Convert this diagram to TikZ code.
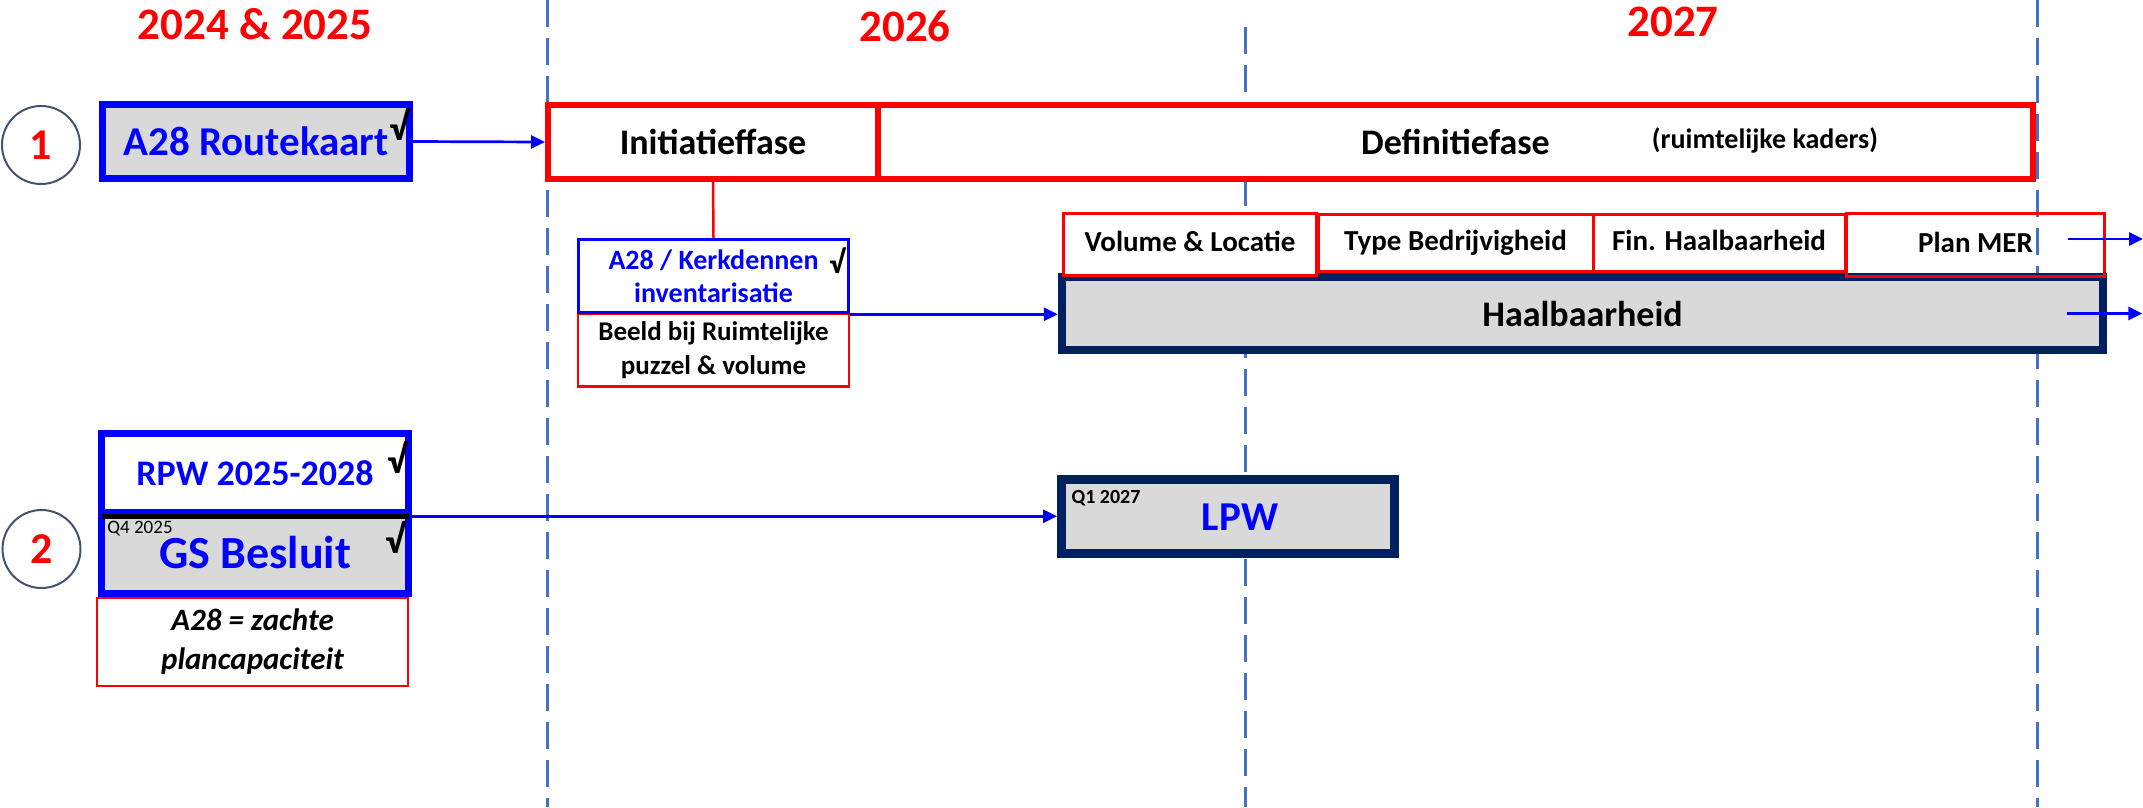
\documentclass[tikz,border=0pt]{standalone}
\usepackage{fontspec}
\setmainfont{Carlito}
\usetikzlibrary{arrows.meta}

\definecolor{navy}{HTML}{002060}
\definecolor{boxgray}{HTML}{D9D9D9}
\definecolor{gridblue}{HTML}{4472C4}
\definecolor{ringgray}{HTML}{44546A}

\begin{document}
\begin{tikzpicture}[x=1pt, y=-1pt,
    yearlabel/.style={text=red, font=\bfseries\fontsize{45}{54}\selectfont},
    ring/.style={circle, draw=ringgray, line width=2pt, minimum size=78pt, inner sep=0pt,
      text=red, font=\bfseries\fontsize{44}{52}\selectfont},
    phasebox/.style={draw=red, line width=6pt, fill=white, inner sep=0pt, minimum height=74pt,
      font=\bfseries\fontsize{36}{43}\selectfont},
    bluebox/.style={draw=blue, line width=7pt, inner sep=0pt, minimum width=307pt,
      text=blue, font=\bfseries\fontsize{36}{43}\selectfont},
    navybox/.style={draw=navy, line width=8.5pt, fill=boxgray, inner sep=0pt},
    redbox/.style={draw=red, line width=3pt, inner sep=0pt, text height=20pt, text depth=6pt,
      font=\bfseries\fontsize{29}{35}\selectfont},
    notebox/.style={draw=red, line width=2.5pt, fill=white, inner sep=0pt, align=center},
    flow/.style={blue, line width=2.7pt, -{Triangle[length=14pt,width=13pt]}},
    check/.style={font=\bfseries\fontsize{40}{48}\selectfont},
    grid/.style={gridblue, line width=3pt, dash pattern=on 27pt off 11pt}]

  \useasboundingbox (0,0) rectangle (2143,807);

  % Year separators
  \draw[grid] (547,0) -- (547,807);
  \draw[grid] (1245,27) -- (1245,807);
  \draw[grid] (2037,0) -- (2037,807);

  % Year labels
  \node[yearlabel] (y2425) at (255,24) {2024 \& 2025};
  \node[yearlabel] (y26) at (905,26) {2026};
  \node[yearlabel] (y27) at (1673,22) {2027};

  % Phases (track 1)
  \node[phasebox, minimum width=330pt] (init) at (713,142) {Initiatieffase};
  \node[phasebox, minimum width=1155pt] (defin) at (1455.5,142) {Definitiefase};
  \node[font=\bfseries\fontsize{28}{34}\selectfont] (kaders) at (1765,140) {(ruimtelijke kaders)};

  % Track 1
  \node[ring] (one) at (41,145) {1};
  \node[bluebox, fill=boxgray, minimum height=74pt, font=\bfseries\fontsize{41}{49}\selectfont]
    (route) at (256,141.5) {A28 Routekaart};
  \node[check] (chkroute) at (399,124) {√};
  \draw[flow] (route.east) -- (init.west);

  % Inventory below the initiation phase
  \node[notebox, minimum width=271pt, minimum height=73pt,
    font=\bfseries\fontsize{27}{34}\selectfont] (beeld) at (713.5,350)
    {Beeld bij Ruimtelijke\\puzzel \& volume};
  \node[draw=blue, line width=3pt, fill=white, inner sep=0pt, align=center,
    minimum width=270pt, minimum height=73.5pt, text=blue,
    font=\bfseries\fontsize{28}{33}\selectfont] (kerk) at (713.5,276)
    {A28 / Kerkdennen\\inventarisatie};
  \node[check, font=\bfseries\fontsize{32}{38}\selectfont] (chkkerk) at (837,261) {√};
  \draw[red, line width=2.5pt] (init.south) -- (kerk.north);

  % Feasibility
  \node[navybox, minimum width=1041pt, minimum height=73pt,
    font=\bfseries\fontsize{36}{43}\selectfont] (haal) at (1582.5,313.5) {Haalbaarheid};
  \node[redbox, fill=white, minimum width=253pt, minimum height=62pt] (vol) at (1190,244.5) {Volume \& Locatie};
  \node[redbox, fill=white, minimum width=275pt, minimum height=57pt] (type) at (1455.5,243) {Type Bedrijvigheid};
  \node[redbox, fill=white, minimum width=252pt, minimum height=57pt] (fin) at (1719,243) {Fin. Haalbaarheid};
  \node[redbox, minimum width=258pt, minimum height=63pt] (plan) at (1975.5,245) {Plan MER};
  \draw[flow] (kerk.south east) -- (kerk.south east -| haal.west);
  \draw[flow] ([shift={(-38,-6)}]plan.east) -- ++(75,0);
  \draw[flow] ([xshift=-40pt]haal.east) -- ++(75,0);

  % Track 2
  \node[ring] (two) at (41.5,549) {2};
  \node[bluebox, fill=boxgray, minimum height=80.5pt, font=\bfseries\fontsize{46}{55}\selectfont]
    (gs) at (255,553) {GS Besluit};
  \node[bluebox, fill=white, minimum height=79.5pt] (rpw) at (255,473) {RPW 2025-2028};
  \draw[black, line width=5pt] ([xshift=3.5pt]rpw.south west) -- ([xshift=-3.5pt]rpw.south east);
  \node[font=\fontsize{19}{23}\selectfont] (q4) at (140,529) {Q4 2025};
  \node[check] (chkrpw) at (397,457) {√};
  \node[check] (chkgs) at (395,537) {√};
  \node[notebox, minimum width=311pt, minimum height=88pt,
    font=\bfseries\itshape\fontsize{31}{39}\selectfont] (zacht) at (252.5,642)
    {A28 = zachte\\plancapaciteit};

  % LPW
  \node[navybox, draw=navy, line width=9pt, minimum width=333pt, minimum height=74pt] (lpw) at (1228,516.5) {};
  \node[text=blue, font=\bfseries\fontsize{41}{49}\selectfont] (lpwname) at (1240,517) {LPW};
  \node[font=\bfseries\fontsize{20}{24}\selectfont] (q1) at (1106,498) {Q1 2027};
  \draw[flow] (rpw.south east) -- (rpw.south east -| lpw.west);
\end{tikzpicture}
\end{document}
